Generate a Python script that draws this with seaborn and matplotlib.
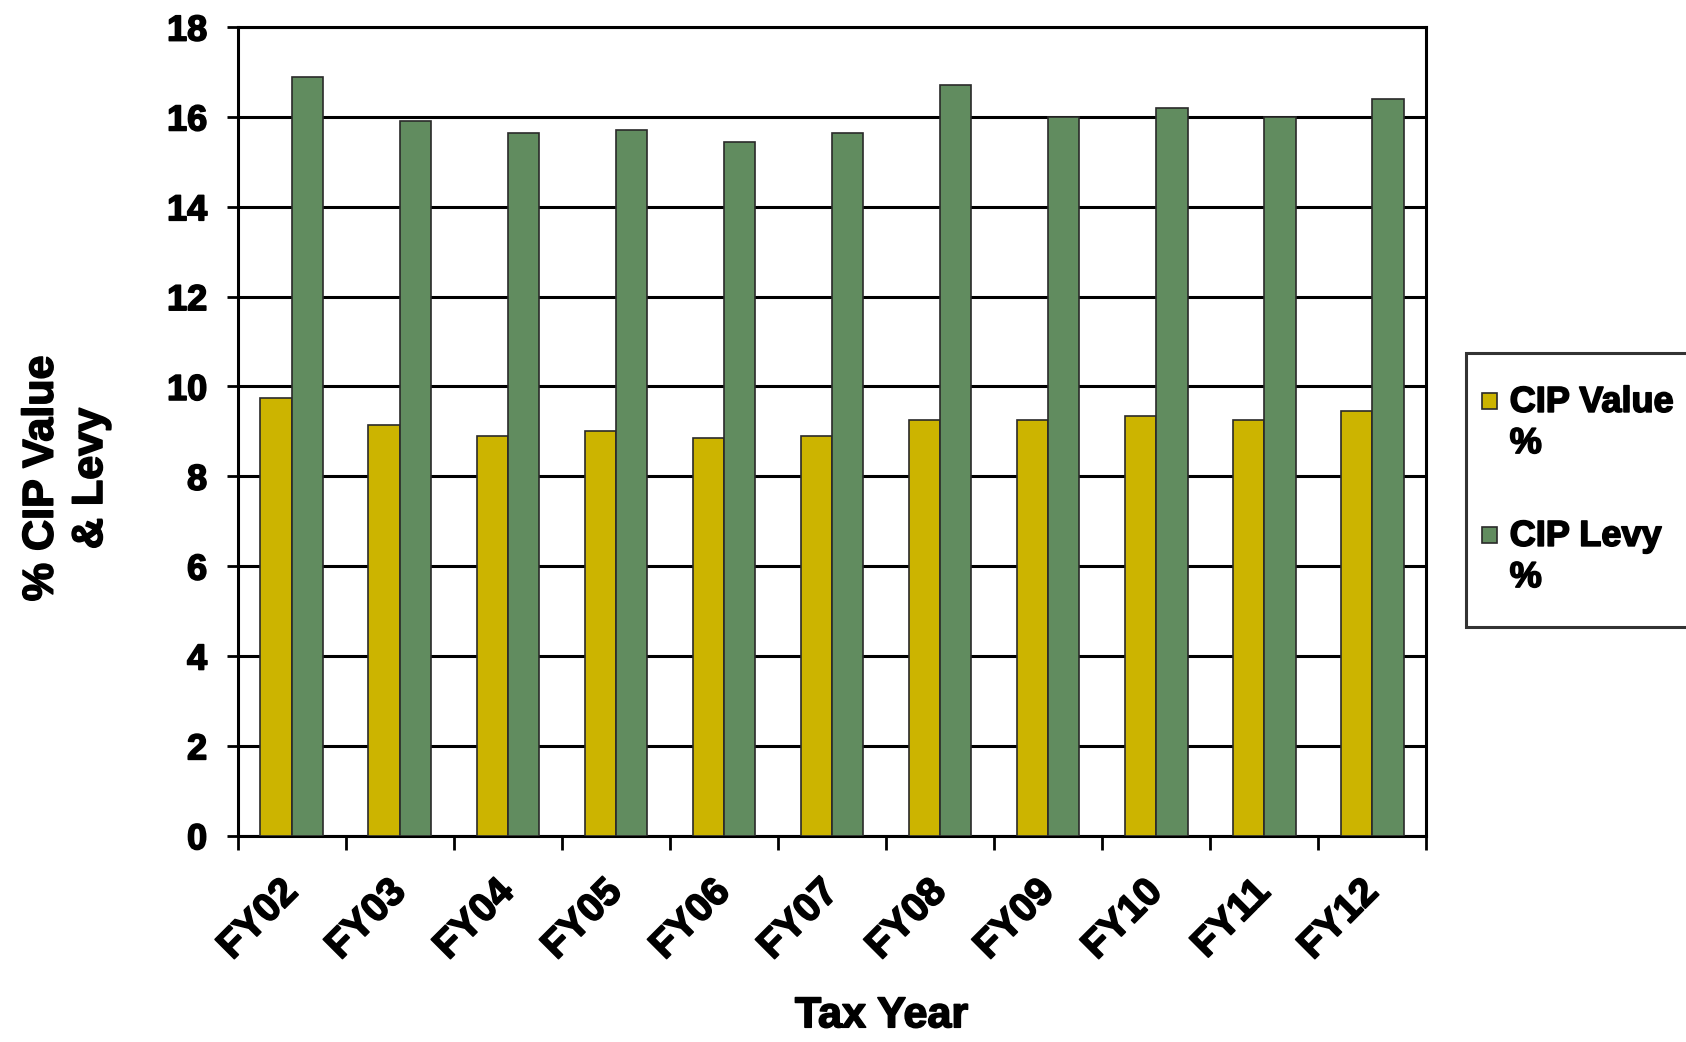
import matplotlib
matplotlib.use("Agg")
import matplotlib.pyplot as plt
import matplotlib.patheffects as pe
from matplotlib.legend_handler import HandlerPatch
from matplotlib.patches import Rectangle
import seaborn as sns
import pandas as pd
import numpy as np

# Tax years and CIP percentages
years = ["FY02", "FY03", "FY04", "FY05", "FY06", "FY07",
         "FY08", "FY09", "FY10", "FY11", "FY12"]
cip_value = [9.75, 9.15, 8.9, 9.0, 8.85, 8.9, 9.25, 9.25, 9.35, 9.25, 9.45]
cip_levy = [16.9, 15.9, 15.65, 15.7, 15.45, 15.65, 16.7, 16.0, 16.2, 16.0, 16.4]
series_names = ["CIP Value\n%", "CIP Levy\n%"]
y_ticks = [0, 2, 4, 6, 8, 10, 12, 14, 16, 18]

df = pd.DataFrame({
    "year": years * 2,
    "value": cip_value + cip_levy,
    "series": [series_names[0]] * len(years) + [series_names[1]] * len(years),
})

sns.set_theme(style="white")
plt.rcParams["font.family"] = ["Liberation Sans", "DejaVu Sans"]
plt.rcParams["font.weight"] = "bold"
for key in ["text.color", "axes.labelcolor", "xtick.color", "ytick.color"]:
    plt.rcParams[key] = "black"

heavy = [pe.withStroke(linewidth=1.2, foreground="black")]

fig = plt.figure(figsize=(16.86, 10.42), dpi=100)
ax = fig.add_axes([0.141, 0.198, 0.705, 0.776])

sns.barplot(data=df, x="year", y="value", hue="series",
            palette=["#CCB400", "#618C5F"], width=0.58, gap=0,
            edgecolor="#2a2a2a", linewidth=1.2, saturation=1,
            ax=ax, zorder=3)

ax.set_ylim(0, 18)
ax.set_xlim(-0.5, len(years) - 0.5)
ax.set_yticks(y_ticks)
ax.set_yticklabels([str(t) for t in y_ticks], fontsize=26, fontweight="bold",
                   path_effects=heavy)

# Horizontal gridlines behind the bars
ax.yaxis.grid(True, color="black", linewidth=2.2)
ax.set_axisbelow(True)

for side in ["left", "bottom", "right", "top"]:
    ax.spines[side].set_visible(True)
    ax.spines[side].set_color("black")
    ax.spines[side].set_linewidth(2.2)

ax.tick_params(axis="y", direction="out", length=8, width=2, pad=14,
               left=True)

# Category ticks sit on the boundaries between groups
ax.set_xticks(np.arange(len(years)))
ax.set_xticks(np.arange(-0.5, len(years), 1.0), minor=True)
ax.tick_params(axis="x", which="major", length=0, pad=36)
ax.tick_params(axis="x", which="minor", direction="out", length=10,
               width=2, bottom=True)
for lbl in ax.get_xticklabels():
    lbl.set_rotation(45)
    lbl.set_ha("right")
    lbl.set_va("center")
    lbl.set_rotation_mode("anchor")
    lbl.set_fontsize(28.5)
    lbl.set_fontweight("bold")
    lbl.set_path_effects(heavy)

ax.set_xlabel("Tax Year", fontsize=31, fontweight="bold", va="center",
              path_effects=heavy)
ax.xaxis.set_label_coords(0.5415, -0.2233)
ax.set_ylabel("% CIP Value\n& Levy", fontsize=31, fontweight="bold",
              va="center", linespacing=1.3, path_effects=heavy)
ax.yaxis.set_label_coords(-0.1442, 0.4415)

# Legend keys: small squares beside the first line of each label
BORDER_PAD = 0.89
KEY_SHIFT = 0.44


def top_square(legend, orig_handle, xdescent, ydescent, width, height, fontsize):
    s = 0.42 * fontsize
    return Rectangle((-xdescent - KEY_SHIFT * fontsize, 0.77 * fontsize), s, s)


handles, labels = ax.get_legend_handles_labels()
ax.get_legend().remove()
leg = fig.legend(handles, labels, loc="upper left",
                 bbox_to_anchor=(0.8693, 0.6615), frameon=True,
                 prop={"size": 26, "weight": "bold"},
                 handlelength=0.05, handleheight=1.0, handletextpad=0.28,
                 labelspacing=1.6, borderpad=BORDER_PAD, fancybox=False,
                 borderaxespad=0,
                 handler_map={Rectangle: HandlerPatch(patch_func=top_square)})
leg.get_frame().set_edgecolor("black")
leg.get_frame().set_linewidth(2.2)
for t in leg.get_texts():
    t.set_linespacing(1.23)
    t.set_path_effects(heavy)

fig.savefig("out.png", dpi=100)
